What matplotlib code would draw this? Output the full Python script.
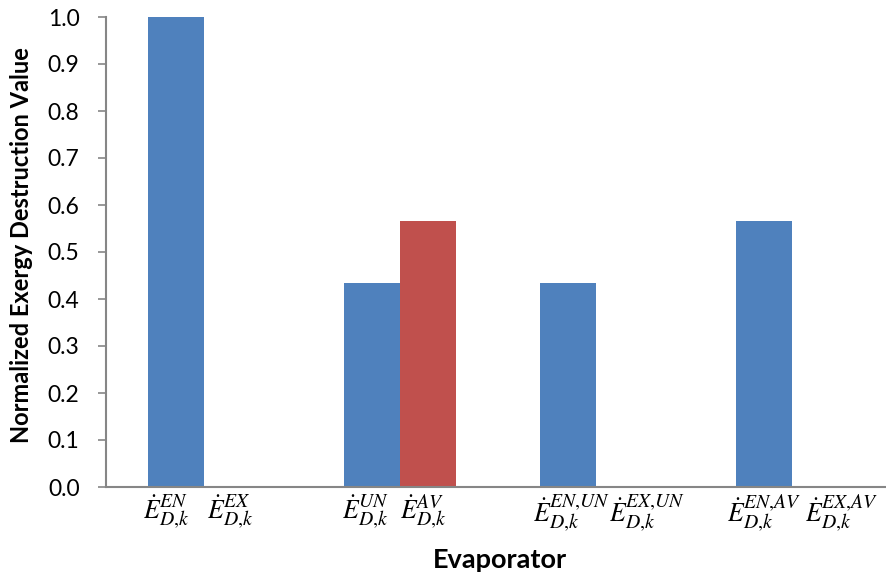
import matplotlib
matplotlib.use("Agg")
import matplotlib.pyplot as plt
import matplotlib.transforms as mtransforms
import matplotlib._mathtext as _mathtext
import numpy as np

plt.rcParams['font.family'] = ['Lato', 'DejaVu Sans']
plt.rcParams['mathtext.fontset'] = 'stix'
# larger scripts, closer to the look of Cambria Math indices
_mathtext.SHRINK_FACTOR = 0.77

categories = ["EN/EX", "UN/AV", "EN,UN / EX,UN", "EN,AV / EX,AV"]
series_blue = [1.0, 0.433, 0.433, 0.567]
series_red = [0.0, 0.567, 0.0, 0.0]
bar_labels = [
    r'$\dot{E}_{D{,}k}^{EN}$', r'$\dot{E}_{D{,}k}^{EX}$',
    r'$\dot{E}_{D{,}k}^{UN}$', r'$\dot{E}_{D{,}k}^{AV}$',
    r'$\dot{E}_{D{,}k}^{EN{,}UN}$', r'$\dot{E}_{D{,}k}^{EX{,}UN}$',
    r'$\dot{E}_{D{,}k}^{EN{,}AV}$', r'$\dot{E}_{D{,}k}^{EX{,}AV}$',
]
y_ticks = [0.0, 0.1, 0.2, 0.3, 0.4, 0.5, 0.6, 0.7, 0.8, 0.9, 1.0]

# horizontal nudges (pixels) of the bar captions relative to bar centres
label_shift_px = [-10, -2, -7, -5, 4, 23, 0, 22]

W, H = 886, 580
fig = plt.figure(figsize=(W / 100, H / 100), dpi=100)
ax = fig.add_axes([106 / W, 93 / H, 784 / W, 470 / H])

x = np.arange(len(categories))
bw = 56 / 196
ax.bar(x - bw / 2, series_blue, width=bw, color='#4F81BD', linewidth=0)
ax.bar(x + bw / 2, series_red, width=bw, color='#C0504D', linewidth=0)

ax.set_xlim(-0.5, len(categories) - 0.5)
ax.set_ylim(0, 1.0)
ax.set_yticks(y_ticks)
ax.set_yticklabels([f"{v:.1f}" for v in y_ticks], fontsize=16.5)

pos = np.ravel(np.column_stack([x - bw / 2, x + bw / 2]))
ax.set_xticks(pos)
ax.set_xticklabels(bar_labels, fontsize=18.5)
ax.tick_params(axis='x', length=0, pad=4)
ax.tick_params(axis='y', length=6, width=1.2, color='#868686', pad=13)
for lbl, dx in zip(ax.get_xticklabels(), label_shift_px):
    lbl.set_transform(lbl.get_transform() +
                      mtransforms.ScaledTranslation(dx / 100, 0, fig.dpi_scale_trans))

for s in ['top', 'right']:
    ax.spines[s].set_visible(False)
for s in ['left', 'bottom']:
    ax.spines[s].set_color('#868686')
    ax.spines[s].set_linewidth(1.5)

fig.text(22 / W, 1 - 245 / H, 'Normalized Exergy Destruction Value',
         fontsize=17, fontweight='bold', rotation=90, ha='center', va='center')
fig.text(499.5 / W, 1 - 568 / H, 'Evaporator', fontsize=19.5,
         fontweight='bold', ha='center', va='baseline')

fig.savefig('out.png', dpi=100)
